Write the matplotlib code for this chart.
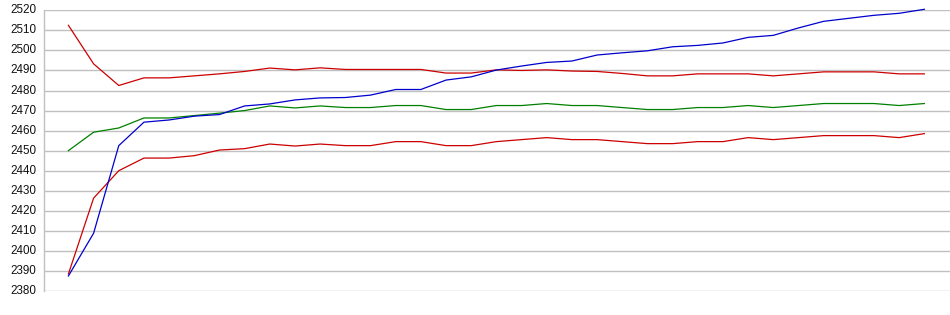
import matplotlib
matplotlib.use("Agg")
import matplotlib.pyplot as plt
import matplotlib.transforms as mtransforms
import numpy as np

x = list(range(35))

upper = [2512.5, 2493.3, 2482.5, 2486.3, 2486.3, 2487.3, 2488.3, 2489.5, 2491.2, 2490.3,
         2491.3, 2490.5, 2490.5, 2490.5, 2490.5, 2488.7, 2488.7, 2490.3, 2490.0, 2490.3,
         2489.7, 2489.5, 2488.5, 2487.3, 2487.3, 2488.3, 2488.3, 2488.3, 2487.3, 2488.3,
         2489.3, 2489.3, 2489.3, 2488.3, 2488.3]
middle = [2450.0, 2459.2, 2461.3, 2466.3, 2466.3, 2467.5, 2468.7, 2470.0, 2472.3, 2471.3,
          2472.3, 2471.5, 2471.5, 2472.5, 2472.5, 2470.5, 2470.5, 2472.5, 2472.5, 2473.5,
          2472.5, 2472.5, 2471.5, 2470.5, 2470.5, 2471.5, 2471.5, 2472.5, 2471.5, 2472.5,
          2473.5, 2473.5, 2473.5, 2472.5, 2473.5]
lower = [2388.5, 2426.3, 2440.0, 2446.3, 2446.3, 2447.5, 2450.3, 2451.0, 2453.3, 2452.3,
         2453.3, 2452.5, 2452.5, 2454.5, 2454.5, 2452.5, 2452.5, 2454.5, 2455.5, 2456.5,
         2455.5, 2455.5, 2454.5, 2453.5, 2453.5, 2454.5, 2454.5, 2456.5, 2455.5, 2456.5,
         2457.5, 2457.5, 2457.5, 2456.5, 2458.5]
price = [2387.5, 2408.8, 2452.5, 2464.2, 2465.3, 2467.2, 2468.0, 2472.3, 2473.3, 2475.3,
         2476.3, 2476.5, 2477.7, 2480.5, 2480.5, 2485.2, 2486.8, 2490.2, 2492.2, 2494.0,
         2494.7, 2497.7, 2498.8, 2499.8, 2501.8, 2502.5, 2503.7, 2506.5, 2507.5, 2511.2,
         2514.5, 2516.0, 2517.5, 2518.5, 2520.5]
yticks = list(range(2380, 2521, 10))

fig = plt.figure(figsize=(9.5, 3.15), dpi=100)
ax = fig.add_axes([43.5/950, 24/315, (950-43.5)/950, 280.7/315])

ax.plot(x, upper, color="#cc0000", lw=0.9, clip_on=False)
ax.plot(x, lower, color="#cc0000", lw=0.9, clip_on=False)
ax.plot(x, middle, color="#008000", lw=0.9, clip_on=False)
ax.plot(x, price, color="#0000cc", lw=0.9, clip_on=False)

ax.set_xlim(-0.99, 35.02)
ax.set_ylim(2380, 2520)
ax.set_yticks(yticks)
ax.set_yticklabels([str(v) for v in yticks], fontfamily="Liberation Sans", fontsize=8.4, color="#111111")
ax.set_xticks([])
ax.tick_params(axis="y", length=0, pad=5.3)
offset = mtransforms.ScaledTranslation(0, 1.5/100, fig.dpi_scale_trans)
for lbl in ax.get_yticklabels():
    lbl.set_transform(lbl.get_transform() + offset)
ax.grid(axis="y", color="#c0c0c0", lw=1)
ax.set_axisbelow(True)
for s in ["top", "right", "bottom"]:
    ax.spines[s].set_visible(False)
ax.spines["left"].set_color("#c0c0c0")
ax.spines["left"].set_linewidth(1)
ax.spines["left"].set_bounds(2380, 2520)

fig.savefig("out.png", dpi=100)
